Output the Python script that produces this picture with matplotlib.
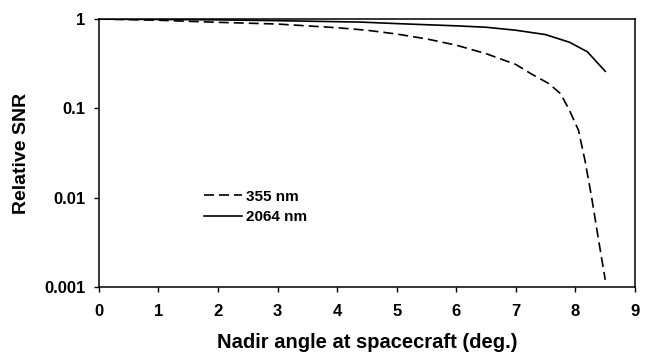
import matplotlib
matplotlib.use("Agg")
import matplotlib.pyplot as plt

# 355 nm (dashed)
x_355 = [0, 1, 2, 3, 4, 4.5, 5, 5.5, 6, 6.5, 7, 7.25, 7.55, 7.75, 7.9, 8.05, 8.16,
         8.27, 8.38, 8.5]
snr_355 = [1.0, 0.97, 0.92, 0.88, 0.80, 0.75, 0.68, 0.60, 0.51, 0.41, 0.31, 0.245,
           0.19, 0.146, 0.095, 0.057, 0.026, 0.0102, 0.0036, 0.0012]

# 2064 nm (solid)
x_2064 = [0, 1, 2, 3, 4, 4.4, 5, 6, 6.5, 7, 7.5, 7.9, 8.2, 8.5]
snr_2064 = [1.0, 0.99, 0.98, 0.96, 0.935, 0.925, 0.89, 0.84, 0.81, 0.75, 0.67,
            0.55, 0.43, 0.26]

xticks = list(range(10))
yticks = [0.001, 0.01, 0.1, 1]
ylabels = ["0.001", "0.01", "0.1", "1"]

plt.rcParams['font.family'] = ['Liberation Sans', 'DejaVu Sans']
plt.rcParams['font.weight'] = 'bold'

fig = plt.figure(figsize=(6.5, 3.6), dpi=100)
ax = fig.add_axes([0.152, 0.203, 0.825, 0.744])

ax.plot(x_355, snr_355, color='black', lw=1.2, dashes=(6, 3), label='355 nm')
ax.plot(x_2064, snr_2064, color='black', lw=1.2, label='2064 nm')

ax.set_yscale('log')
ax.set_xlim(0, 9)
ax.set_ylim(0.001, 1)
ax.set_xticks(xticks)
ax.set_xticklabels([str(t) for t in xticks])
ax.set_yticks(yticks)
ax.set_yticklabels(ylabels)
ax.minorticks_off()
ax.tick_params(labelsize=12, length=3.6, width=1)
ax.tick_params(axis='x', pad=9)
ax.tick_params(axis='y', pad=6)
for s in ax.spines.values():
    s.set_linewidth(1.1)

ax.set_xlabel("Nadir angle at spacecraft (deg.)", fontsize=14.5, fontweight='bold', labelpad=10)
ax.set_ylabel("Relative SNR", fontsize=14, fontweight='bold', labelpad=10)

ax.legend(loc='upper left', bbox_to_anchor=(0.17, 0.415), frameon=False,
          fontsize=11, handlelength=2.5, handletextpad=0.25, labelspacing=0.45)

plt.savefig("out.png", dpi=100)
